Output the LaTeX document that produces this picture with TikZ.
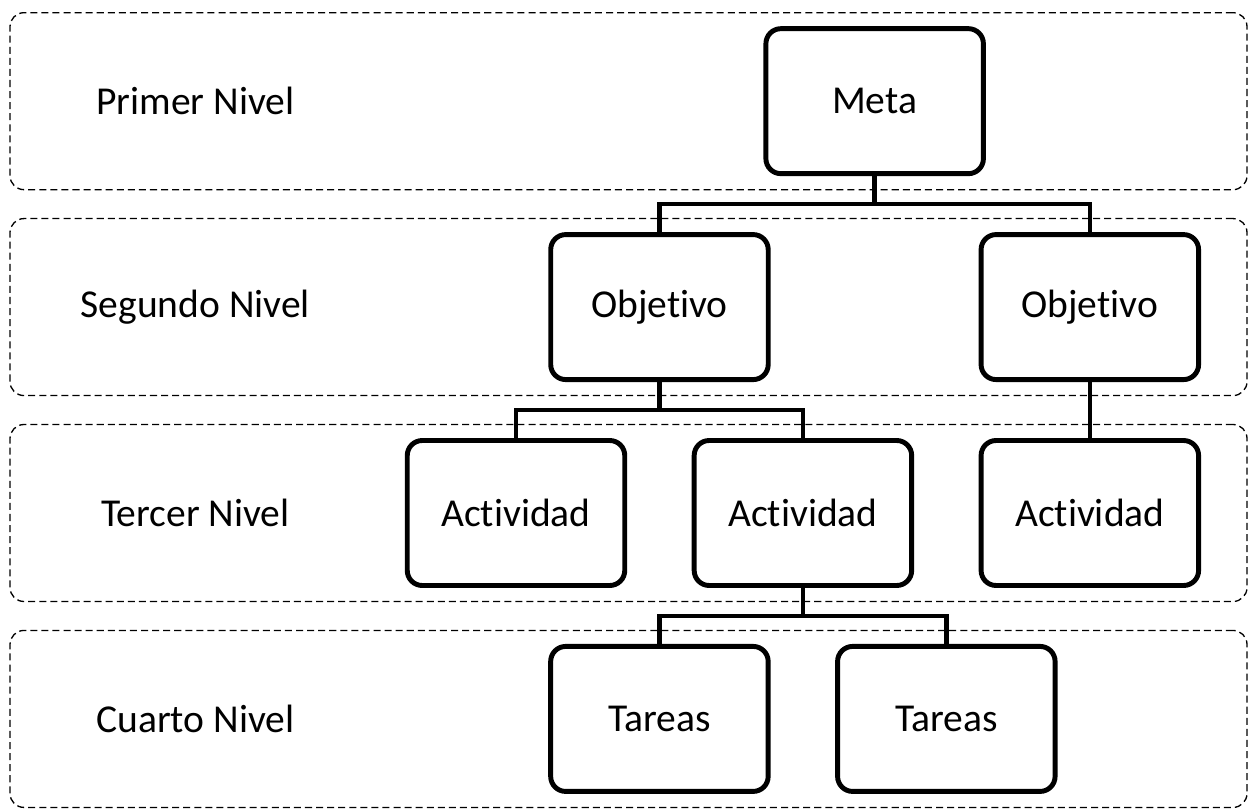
\documentclass[tikz,border=0pt]{standalone}
\usepackage{fontspec}
\setmainfont[Ligatures=NoCommon]{Carlito}
\usetikzlibrary{positioning, calc, backgrounds}
\tikzset{
    block/.style={rectangle, draw, line width=2.8pt, rounded corners=0.3cm, fill=white, align=center, minimum width=4.35cm, minimum height=2.9cm, font=\fontsize{22.5}{26}\selectfont},
    link/.style={line width=2.6pt},
    levelband/.style={rectangle, draw, dash pattern=on 4pt off 2.3pt, line width=0.75pt, rounded corners=0.28cm, minimum width=24.74cm, minimum height=3.54cm},
    levellabel/.style={font=\fontsize{22.5}{26}\selectfont}
}
\begin{document}
\begin{tikzpicture}[node distance=1.12cm and 1.29cm]
            \useasboundingbox (0,0) rectangle (25.08,-16.16);
            \node[block] (act1) at (10.32,-10.26) {Actividad};
            \node[block, right=of act1] (act2) {Actividad};
            \node[block, right=of act2] (act3) {Actividad};
            \coordinate (objbase) at ($(act1.north)!0.5!(act2.north)$);
            \node[block, above=of objbase] (obj1) {Objetivo};
            \node[block, above=of act3] (obj2) {Objetivo};
            \coordinate (metabase) at ($(obj1.north)!0.5!(obj2.north)$);
            \node[block, above=of metabase] (meta) {Meta};
            \node[block, below=of act2, xshift=-2.87cm] (tar1) {Tareas};
            \node[block, right=of tar1] (tar2) {Tareas};

            % level bands
            \begin{scope}[on background layer]
                \node[levelband] (nivel1) at (12.57,0 |- meta) {};
                \node[levelband] (nivel2) at (12.57,0 |- obj1) {};
                \node[levelband] (nivel3) at (12.57,0 |- act1) {};
                \node[levelband] (nivel4) at (12.57,0 |- tar1) {};
            \end{scope}

            \node[levellabel] (lab1) at ([xshift=3.72cm]nivel1.west) {Primer Nivel};
            \node[levellabel] (lab2) at ([xshift=3.72cm]nivel2.west) {Segundo Nivel};
            \node[levellabel] (lab3) at ([xshift=3.72cm]nivel3.west) {Tercer Nivel};
            \node[levellabel] (lab4) at ([xshift=3.72cm]nivel4.west) {Cuarto Nivel};

            \draw[link] (meta.south) -- ++(0,-0.56) -| (obj1.north);
            \draw[link] (meta.south) -- ++(0,-0.56) -| (obj2.north);
            \draw[link] (obj1.south) -- ++(0,-0.56) -| (act1.north);
            \draw[link] (obj1.south) -- ++(0,-0.56) -| (act2.north);
            \draw[link] (obj2.south) -- (act3.north);
            \draw[link] (act2.south) -- ++(0,-0.56) -| (tar1.north);
            \draw[link] (act2.south) -- ++(0,-0.56) -| (tar2.north);
        \end{tikzpicture}
\end{document}
